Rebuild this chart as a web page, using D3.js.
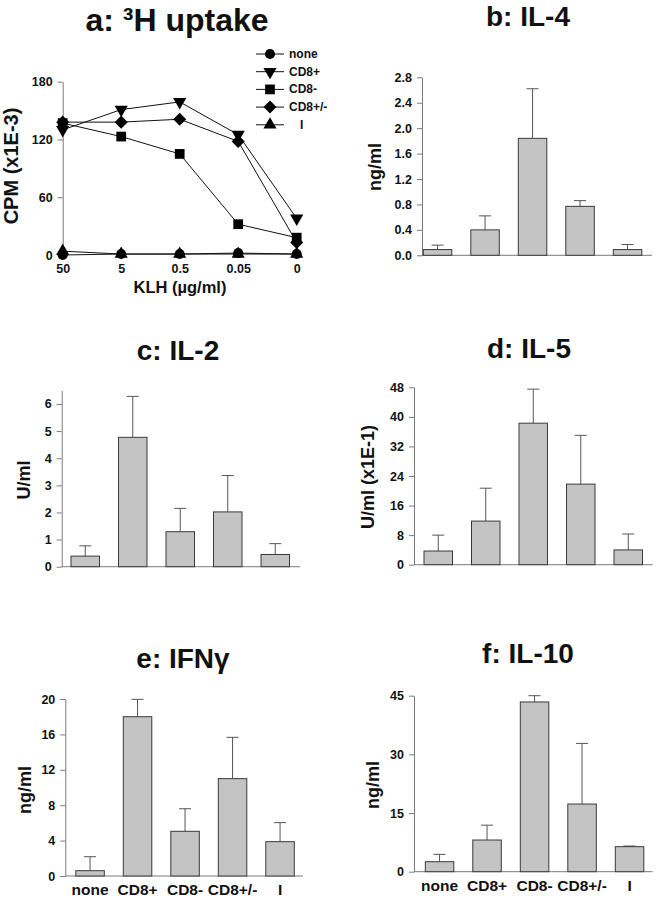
<!DOCTYPE html>
<html>
<head>
<meta charset="utf-8">
<script src="https://cdn.jsdelivr.net/npm/d3@7"></script>
<style>
  html, body { margin: 0; padding: 0; background: #fff; }
  svg { display: block; font-family: "Liberation Sans", Arial, Helvetica, sans-serif; font-weight: bold; }
</style>
</head>
<body>
<svg id="chart" width="656" height="900"></svg>
<script>
// ---------------- DATA ----------------
const groups = ["none", "CD8+", "CD8-", "CD8+/-", "I"];

// panel a: 3H uptake (CPM x1E-3) vs KLH dose
const klhDoses = ["50", "5", "0.5", "0.05", "0"];
const uptakeNone   = [0, 1, 1, 2, 1];
const uptakeCD8pos = [130, 151, 159, 125, 38];
const uptakeCD8neg = [137, 123, 105, 32, 18];
const uptakeCD8pm  = [138, 138, 141, 118, 13];
const uptakeI      = [4, 1, 1, 1, 1];
const uptakeTicks  = [0, 60, 120, 180];

// panel b: IL-4 (ng/ml)
const il4Mean = [0.09, 0.40, 1.84, 0.77, 0.09];
const il4Sd   = [0.07, 0.22, 0.78, 0.09, 0.08];
const il4Ticks = [0, 0.4, 0.8, 1.2, 1.6, 2.0, 2.4, 2.8];

// panel c: IL-2 (U/ml)
const il2Mean = [0.39, 4.77, 1.29, 2.02, 0.45];
const il2Sd   = [0.38, 1.51, 0.86, 1.34, 0.40];
const il2Ticks = [0, 1, 2, 3, 4, 5, 6];

// panel d: IL-5 (U/ml x1E-1)
const il5Mean = [3.7, 11.8, 38.3, 21.8, 4.0];
const il5Sd   = [4.3, 8.9, 9.2, 13.2, 4.3];
const il5Ticks = [0, 8, 16, 24, 32, 40, 48];

// panel e: IFN-gamma (ng/ml)
const ifnMean = [0.6, 18.0, 5.05, 11.0, 3.88];
const ifnSd   = [1.58, 1.96, 2.55, 4.67, 2.15];
const ifnTicks = [0, 4, 8, 12, 16, 20];

// panel f: IL-10 (ng/ml)
const il10Mean = [2.56, 8.1, 43.4, 17.3, 6.4];
const il10Sd   = [1.87, 3.8, 1.6, 15.5, 0.16];
const il10Ticks = [0, 15, 30, 45];

// ---------------- STYLE ----------------
const axisColor = "#7a7a7a";
const barFill = "#c4c4c4";
const barStroke = "#3a3a3a";
const errColor = "#555";

const svg = d3.select("#chart");

function styleAxis(g) {
  g.selectAll("path.domain").attr("stroke", axisColor).attr("stroke-width", 1);
  g.selectAll(".tick line").attr("stroke", axisColor).attr("stroke-width", 1);
  g.selectAll(".tick text").attr("fill", "#111").attr("font-size", 12.5)
    .attr("font-family", "Liberation Sans, Arial, sans-serif").attr("font-weight", "bold");
}

function title(x, y, txt, size) {
  svg.append("text").attr("x", x).attr("y", y).attr("text-anchor", "middle")
    .attr("font-size", size).attr("fill", "#111").text(txt);
}
function yLabel(x, y, txt, size) {
  svg.append("text").attr("transform", `translate(${x},${y}) rotate(-90)`)
    .attr("text-anchor", "middle").attr("dominant-baseline", "central")
    .attr("font-size", size).attr("fill", "#111").text(txt);
}

// ---------------- PANEL A ----------------
(function () {
  const x = d3.scalePoint().domain(klhDoses).range([62.7, 296.7]);
  const y = d3.scaleLinear().domain([0, 180]).range([255, 81.7]);
  const gy = svg.append("g").attr("transform", "translate(62.7,0)")
    .call(d3.axisLeft(y).tickValues(uptakeTicks).tickSize(5).tickSizeOuter(0).tickPadding(5));
  styleAxis(gy);
  const gx = svg.append("g").attr("transform", "translate(0,255)")
    .call(d3.axisBottom(x).tickSize(0).tickPadding(9));
  gx.select("path.domain").remove();
  styleAxis(gx);

  const series = [
    { name: "none",   vals: uptakeNone,   sym: d3.symbolCircle,   size: 80,  rot: 0 },
    { name: "CD8+",   vals: uptakeCD8pos, sym: d3.symbolTriangle, size: 75,  rot: 180 },
    { name: "CD8-",   vals: uptakeCD8neg, sym: d3.symbolSquare,   size: 95,  rot: 0 },
    { name: "CD8+/-", vals: uptakeCD8pm,  sym: d3.symbolSquare,   size: 85,  rot: 45 },
    { name: "I",      vals: uptakeI,      sym: d3.symbolTriangle, size: 75,  rot: 0 }
  ];
  const line = d3.line().x((d, i) => x(klhDoses[i])).y(d => y(d));
  series.forEach(s => {
    svg.append("path").attr("d", line(s.vals)).attr("fill", "none")
      .attr("stroke", "#111").attr("stroke-width", 1);
  });
  series.forEach(s => {
    svg.append("g").selectAll("path").data(s.vals).join("path")
      .attr("d", d3.symbol().type(s.sym).size(s.size))
      .attr("transform", (d, i) => `translate(${x(klhDoses[i])},${y(d)}) rotate(${s.rot})`)
      .attr("fill", "#000");
  });
  // legend
  const lg = svg.append("g");
  series.forEach((s, i) => {
    const yy = 54 + i * 17.7;
    lg.append("line").attr("x1", 256).attr("x2", 284).attr("y1", yy).attr("y2", yy)
      .attr("stroke", "#111").attr("stroke-width", 1);
    lg.append("path").attr("d", d3.symbol().type(s.sym).size(s.size)())
      .attr("transform", `translate(270,${yy}) rotate(${s.rot})`).attr("fill", "#000");
    lg.append("text").attr("x", s.name === "I" ? 300 : 289).attr("y", yy)
      .attr("dominant-baseline", "central").attr("font-size", 12).attr("fill", "#111").text(s.name);
  });
  title(177, 31, "a: \u00B3H uptake", 32);
  yLabel(11, 166, "CPM (x1E-3)", 20);
  svg.append("text").attr("x", 180).attr("y", 293).attr("text-anchor", "middle")
    .attr("font-size", 16.5).attr("fill", "#111").text("KLH (\u00B5g/ml)");
})();

// ---------------- BAR PANELS ----------------
function barPanel(cfg) {
  const y = d3.scaleLinear().domain([0, cfg.max]).range([cfg.y0, cfg.yTop]);
  const x = d3.scaleBand().domain(groups)
    .range([cfg.bandStart, cfg.bandStart + 5 * 47.5]).paddingInner(0.4).paddingOuter(0.2);
  const gy = svg.append("g").attr("transform", `translate(${cfg.axisX},0)`)
    .call(d3.axisLeft(y).tickValues(cfg.ticks).tickSize(5).tickSizeOuter(0).tickPadding(5)
      .tickFormat(cfg.fmt));
  styleAxis(gy);
  svg.append("line").attr("x1", cfg.axisX).attr("x2", cfg.xEnd)
    .attr("y1", cfg.y0).attr("y2", cfg.y0).attr("stroke", axisColor).attr("stroke-width", 1);

  const g = svg.append("g");
  // error bars
  g.selectAll("line.err").data(cfg.mean).join("line").attr("class", "err")
    .attr("x1", (d, i) => x(groups[i]) + x.bandwidth() / 2)
    .attr("x2", (d, i) => x(groups[i]) + x.bandwidth() / 2)
    .attr("y1", d => y(d)).attr("y2", (d, i) => y(d + cfg.sd[i]))
    .attr("stroke", errColor).attr("stroke-width", 1);
  g.selectAll("line.cap").data(cfg.mean).join("line").attr("class", "cap")
    .attr("x1", (d, i) => x(groups[i]) + x.bandwidth() / 2 - 6)
    .attr("x2", (d, i) => x(groups[i]) + x.bandwidth() / 2 + 6)
    .attr("y1", (d, i) => y(d + cfg.sd[i])).attr("y2", (d, i) => y(d + cfg.sd[i]))
    .attr("stroke", errColor).attr("stroke-width", 1);
  // bars
  g.selectAll("rect").data(cfg.mean).join("rect")
    .attr("x", (d, i) => x(groups[i]))
    .attr("y", d => y(d))
    .attr("width", x.bandwidth())
    .attr("height", d => cfg.y0 - y(d))
    .attr("fill", barFill).attr("stroke", barStroke).attr("stroke-width", 1);

  if (cfg.xLabY) {
    const gx = svg.append("g").attr("transform", `translate(0,${cfg.y0})`)
      .call(d3.axisBottom(x).tickSize(0).tickPadding(cfg.xLabY - cfg.y0));
    gx.select("path.domain").remove();
    gx.selectAll(".tick text").attr("font-size", 15.5).attr("fill", "#111")
      .attr("font-weight", "bold").attr("font-family", "Liberation Sans, Arial, sans-serif");
  }
  title(cfg.tx, cfg.ty, cfg.title, 28);
  yLabel(cfg.lx, cfg.ly, cfg.ylabel, 18);
}

barPanel({ title: "b: IL-4", tx: 528, ty: 26, ylabel: "ng/ml", lx: 375, ly: 167,
  mean: il4Mean, sd: il4Sd, ticks: il4Ticks, fmt: d3.format(".1f"), max: 2.8,
  axisX: 422, bandStart: 413.8, y0: 255.3, yTop: 77.3, xEnd: 652 });

barPanel({ title: "c: IL-2", tx: 178, ty: 360, ylabel: "U/ml", lx: 24, ly: 480,
  mean: il2Mean, sd: il2Sd, ticks: il2Ticks, fmt: d3.format("d"), max: 6.5,
  axisX: 61.7, bandStart: 61.5, y0: 566.7, yTop: 390.4, xEnd: 300 });

barPanel({ title: "d: IL-5", tx: 529, ty: 358, ylabel: "U/ml (x1E-1)", lx: 368, ly: 477,
  mean: il5Mean, sd: il5Sd, ticks: il5Ticks, fmt: d3.format("d"), max: 48,
  axisX: 414, bandStart: 414.5, y0: 564.7, yTop: 387.3, xEnd: 652.7 });

barPanel({ title: "e: IFN\u03B3", tx: 183, ty: 668, ylabel: "ng/ml", lx: 25, ly: 790,
  mean: ifnMean, sd: ifnSd, ticks: ifnTicks, fmt: d3.format("d"), max: 20,
  axisX: 65.3, bandStart: 66.3, y0: 876, yTop: 699, xEnd: 303, xLabY: 884 });

barPanel({ title: "f: IL-10", tx: 528, ty: 663, ylabel: "ng/ml", lx: 373, ly: 785,
  mean: il10Mean, sd: il10Sd, ticks: il10Ticks, fmt: d3.format("d"), max: 45,
  axisX: 414, bandStart: 415.8, y0: 871.7, yTop: 695.7, xEnd: 652.7, xLabY: 880 });
</script>
</body>
</html>
